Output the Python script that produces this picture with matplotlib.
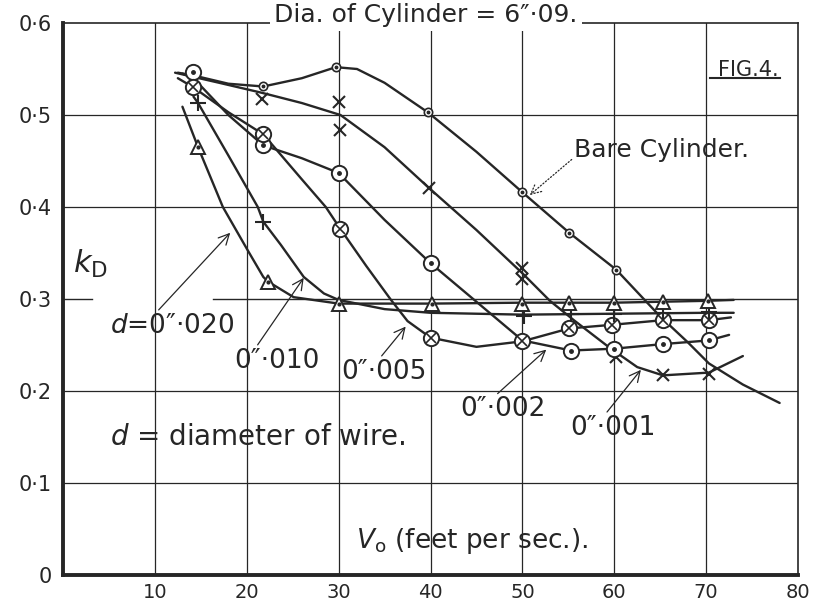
import matplotlib.pyplot as plt

# k_D against V0 (feet per sec.) for a 6".09 cylinder
# each set: marker readings (v, k) and the traced hand-drawn curve (cv, ck)

bare_v = [21.8, 29.7, 39.7, 50.0, 55.1, 60.2]
bare_k = [0.532, 0.552, 0.503, 0.416, 0.372, 0.332]
bare_cv = [12.5, 14.2, 18.0, 21.8, 26.0, 29.7, 32.0, 35.0, 39.7, 45.0,
           50.0, 55.1, 60.2, 65.0, 68.0, 70.3, 74.0, 78.0]
bare_ck = [0.546, 0.543, 0.534, 0.531, 0.540, 0.552, 0.550, 0.535, 0.503,
           0.460, 0.416, 0.372, 0.332, 0.281, 0.253, 0.230, 0.207, 0.187]

w001_v = [21.7, 30.0, 30.2, 39.8, 50.0, 50.0, 60.2, 65.3, 70.3]
w001_k = [0.517, 0.514, 0.484, 0.421, 0.334, 0.322, 0.237, 0.217, 0.219]
w001_cv = [12.2, 17.0, 21.7, 26.0, 30.2, 35.0, 39.8, 45.0, 50.0, 53.0,
           55.6, 59.5, 62.5, 65.3, 70.3, 74.0]
w001_ck = [0.546, 0.535, 0.524, 0.513, 0.500, 0.465, 0.421, 0.375, 0.328,
           0.298, 0.277, 0.247, 0.226, 0.217, 0.220, 0.238]

w002_v = [14.2, 21.8, 30.0, 40.0, 55.3, 60.0, 65.3, 70.3]
w002_k = [0.547, 0.467, 0.437, 0.339, 0.244, 0.246, 0.251, 0.255]
w002_cv = [13.0, 14.2, 18.0, 21.8, 26.0, 30.0, 35.0, 40.0, 45.0, 50.0,
           55.3, 60.0, 65.3, 70.3, 72.5]
w002_ck = [0.545, 0.540, 0.500, 0.467, 0.453, 0.437, 0.386, 0.339, 0.297,
           0.255, 0.244, 0.246, 0.251, 0.255, 0.261]

w005_v = [14.2, 21.8, 30.2, 40.0, 50.0, 55.1, 59.8, 65.3, 70.3]
w005_k = [0.530, 0.479, 0.376, 0.258, 0.254, 0.268, 0.272, 0.277, 0.277]
w005_cv = [12.5, 14.2, 18.0, 21.8, 26.0, 28.6, 30.2, 33.0, 35.7, 37.5,
           40.0, 45.0, 50.0, 55.1, 59.8, 65.3, 70.3, 72.7]
w005_ck = [0.540, 0.530, 0.503, 0.479, 0.430, 0.400, 0.376, 0.336, 0.299,
           0.276, 0.258, 0.248, 0.254, 0.268, 0.272, 0.277, 0.277, 0.280]

w010_v = [14.7, 21.8, 50.2, 55.3, 60.0, 65.3, 70.3]
w010_k = [0.513, 0.384, 0.282, 0.284, 0.284, 0.285, 0.286]
w010_cv = [14.2, 14.7, 18.0, 21.2, 21.8, 23.7, 26.2, 28.4, 30.0, 35.0,
           40.0, 50.0, 60.0, 70.0, 73.0]
w010_ck = [0.520, 0.513, 0.456, 0.400, 0.384, 0.359, 0.324, 0.306, 0.299,
           0.289, 0.285, 0.283, 0.284, 0.285, 0.285]

w020_v = [14.7, 22.3, 30.0, 40.2, 50.0, 55.1, 60.0, 65.3, 70.2]
w020_k = [0.465, 0.319, 0.295, 0.295, 0.295, 0.296, 0.296, 0.297, 0.298]
w020_cv = [13.0, 14.7, 17.4, 20.1, 21.8, 22.3, 25.1, 30.0, 40.0, 50.0,
           60.0, 70.0, 73.0]
w020_ck = [0.509, 0.465, 0.400, 0.353, 0.324, 0.319, 0.302, 0.295, 0.295,
           0.296, 0.296, 0.298, 0.299]

x_ticks = [10, 20, 30, 40, 50, 60, 70, 80]
y_ticks = [0, 0.1, 0.2, 0.3, 0.4, 0.5, 0.6]
y_labels = ['0', '0·1', '0·2', '0·3', '0·4', '0·5', '0·6']

ink = '#262626'

fig = plt.figure(figsize=(8.14, 6.03), dpi=100)
ax = fig.add_axes([63 / 814, 28 / 603, 735 / 814, 552 / 603])
ax.set_xlim(0, 80)
ax.set_ylim(0, 0.6)

# grid (0.3 line is broken on the left where the wire labels sit)
for gx in x_ticks[:-1]:
    ax.axvline(gx, color=ink, lw=0.9, zorder=1)
for gy in [0.1, 0.2, 0.4, 0.5]:
    ax.axhline(gy, color=ink, lw=0.9, zorder=1)
ax.axhline(0.3, xmin=0, xmax=0.04, color=ink, lw=1.0, zorder=1)
ax.axhline(0.3, xmin=0.204, xmax=1, color=ink, lw=1.0, zorder=1)

for side, lw in [('left', 2.8), ('bottom', 2.8), ('top', 1.2), ('right', 1.2)]:
    ax.spines[side].set_linewidth(lw)
    ax.spines[side].set_color(ink)

ax.set_xticks(x_ticks)
ax.set_yticks(y_ticks)
ax.set_yticklabels(y_labels)
ax.tick_params(length=0, labelsize=14, colors=ink)
ax.tick_params(axis='y', pad=8, labelsize=15)
ax.tick_params(axis='x', pad=6)

curve_kw = dict(color=ink, lw=1.7, zorder=3, solid_capstyle='round')
ax.plot(bare_cv, bare_ck, **curve_kw)
ax.plot(w001_cv, w001_ck, **curve_kw)
ax.plot(w002_cv, w002_ck, **curve_kw)
ax.plot(w005_cv, w005_ck, **curve_kw)
ax.plot(w010_cv, w010_ck, **curve_kw)
ax.plot(w020_cv, w020_ck, **curve_kw)

mk = dict(ls='none', zorder=4, mec=ink, color=ink)
# bare cylinder: small dotted circles
ax.plot(bare_v, bare_k, marker='o', ms=6, mfc='white', mew=1.2, **mk)
ax.plot(bare_v, bare_k, marker='o', ms=1.8, **mk)
# 0".001: crosses
ax.plot(w001_v, w001_k, marker='x', ms=9, mew=1.5, **mk)
# 0".002: circles with a dot
ax.plot(w002_v, w002_k, marker='o', ms=11, mfc='white', mew=1.4, **mk)
ax.plot(w002_v, w002_k, marker='o', ms=2.5, **mk)
# 0".005: circles with a cross
ax.plot(w005_v, w005_k, marker='o', ms=11, mfc='white', mew=1.4, **mk)
ax.plot(w005_v, w005_k, marker='x', ms=7, mew=1.2, **mk)
# 0".010: plus signs
ax.plot(w010_v, w010_k, marker='+', ms=11, mew=1.5, **mk)
# 0".020: triangles
ax.plot(w020_v, w020_k, marker='^', ms=10, mfc='white', mew=1.4, **mk)
ax.plot(w020_v, w020_k, marker='o', ms=2, **mk)

# lettering
ax.text(39.5, 0.6085, 'Dia. of Cylinder = 6″·09.', ha='center', va='center',
        fontsize=18, color=ink, zorder=6,
        bbox=dict(fc='white', ec='none', pad=3), clip_on=False)
ax.text(74.6, 0.549, 'FIG.4.', ha='center', va='center', fontsize=15, color=ink)
ax.plot([0.88, 0.975], [0.9, 0.9], transform=ax.transAxes, color=ink, lw=1.5)
ax.text(3.0, 0.338, r'$k_{\rm D}$', ha='center', va='center', fontsize=22,
        color=ink)
ax.text(21.2, 0.150, r'$\mathit{d}$ = diameter of wire.', ha='center',
        va='center', fontsize=20, color=ink)
ax.text(44.5, 0.037, r'$V_{\rm o}$ (feet per sec.).', ha='center', va='center',
        fontsize=19, color=ink)

arrow = dict(arrowstyle='->', color=ink, lw=0.9, shrinkA=0, shrinkB=0)
ax.annotate('Bare Cylinder.', xy=(50.8, 0.413), xytext=(65.2, 0.462),
            ha='center', va='center', fontsize=18, color=ink,
            arrowprops=dict(arrow, ls=':', relpos=(0, 0.2)))
ax.annotate(r'$\mathit{d}$=0″·020', xy=(18.2, 0.372), xytext=(11.9, 0.271),
            ha='center', va='center', fontsize=19, color=ink,
            arrowprops=dict(arrow, relpos=(0.35, 0.9)))
ax.annotate('0″·010', xy=(26.2, 0.323), xytext=(23.3, 0.233),
            ha='center', va='center', fontsize=19, color=ink,
            arrowprops=dict(arrow, relpos=(0.25, 1.0)))
ax.annotate('0″·005', xy=(37.3, 0.270), xytext=(34.9, 0.221),
            ha='center', va='center', fontsize=19, color=ink,
            arrowprops=dict(arrow, relpos=(0.45, 1.0)))
ax.annotate('0″·002', xy=(52.6, 0.245), xytext=(47.9, 0.180),
            ha='center', va='center', fontsize=19, color=ink,
            arrowprops=dict(arrow, relpos=(0.4, 1.0)))
ax.annotate('0″·001', xy=(62.9, 0.223), xytext=(59.9, 0.160),
            ha='center', va='center', fontsize=19, color=ink,
            arrowprops=dict(arrow, relpos=(0.4, 1.0)))

fig.savefig('out.png', dpi=100, facecolor='white')
